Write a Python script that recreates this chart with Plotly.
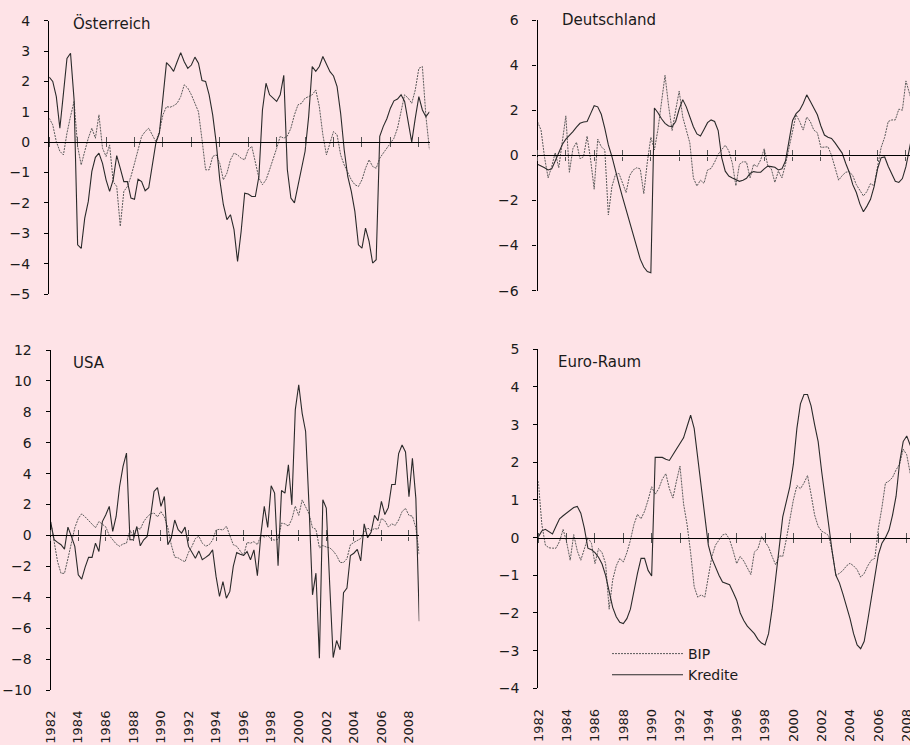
import plotly.graph_objects as go

# ---------------- data (quarterly, 1982Q1 .. 2008Q4) ----------------
quarters = [1982 + i / 4 for i in range(108)]
year_ticks = list(range(1982, 2009, 2))
year_labels = [str(y) for y in year_ticks]

at_kredite = [2.14, 2.0, 1.5, 0.46, 1.6, 2.76, 2.93, 1.4, -3.38, -3.5,
              -2.5, -1.95, -0.96, -0.5, -0.36, -0.7, -1.24, -1.62, -1.24, -0.44,
              -0.86, -1.3, -1.3, -1.84, -1.88, -1.22, -1.3, -1.6, -1.5, -0.7,
              -0.03, 0.3, 1.5, 2.62, 2.5, 2.33, 2.65, 2.95, 2.65, 2.43,
              2.54, 2.8, 2.6, 2.03, 2.0, 1.56, 0.9, -0.03, -1.24, -2.06,
              -2.55, -2.39, -2.88, -3.93, -2.94, -1.68, -1.71, -1.79, -1.79, -1.13,
              1.06, 1.94, 1.56, 1.45, 1.34, 1.56, 2.2, -0.9, -1.84, -2.0,
              -1.4, -0.8, -0.3, 0.84, 2.49, 2.33, 2.49, 2.82, 2.54, 2.32,
              2.18, 1.83, 0.95, -0.25, -1.13, -1.62, -2.28, -3.38, -3.49, -2.83,
              -3.27, -3.98, -3.87, 0.19, 0.52, 0.77, 1.12, 1.36, 1.42, 1.56,
              1.34, 0.62, 0.0, 0.79, 1.5, 1.06, 0.84, 1.0]
at_bip = [0.79, 0.57, 0.02, -0.3, -0.42, 0.3, 0.85, 1.34, -0.14, -0.75,
          -0.3, 0.13, 0.46, 0.13, 0.9, -0.2, -0.47, -0.09, -1.3, -1.46,
          -2.77, -1.62, -1.46, -1.13, -0.7, -0.25, 0.19, 0.35, 0.46, 0.24,
          0.02, 0.35, 0.9, 1.17, 1.15, 1.2, 1.28, 1.5, 1.89, 1.78,
          1.56, 1.28, 1.0, 0.08, -0.91, -0.91, -0.47, -0.42, -0.7, -1.24,
          -1.02, -0.58, -0.36, -0.42, -0.53, -0.58, -0.25, -0.14, -0.7, -1.18,
          -1.4, -1.24, -0.91, -0.58, -0.2, 0.19, 0.13, 0.2, 0.46, 0.9,
          1.23, 1.28, 1.45, 1.5, 1.56, 1.72, 1.17, 0.24, -0.42, -0.03,
          0.35, 0.24, -0.42, -0.75, -1.02, -1.24, -1.4, -1.46, -1.24, -0.86,
          -0.58, -0.8, -0.86, -0.53, -0.36, -0.2, -0.03, 0.13, 0.46, 1.0,
          1.56, 1.45, 1.28, 1.72, 2.43, 2.49, 0.84, -0.25]

de_kredite = [-0.4, -0.46, -0.55, -0.65, -0.6, -0.25, 0.15, 0.48, 0.72, 0.87,
              1.05, 1.25, 1.42, 1.48, 1.5, 1.85, 2.2, 2.15, 1.82, 1.2,
              0.46, -0.05, -0.7, -1.28, -1.85, -2.4, -2.95, -3.55, -4.1, -4.6,
              -4.95, -5.15, -5.2, 2.1, 1.89, 1.62, 1.42, 1.3, 1.27, 1.5,
              2.05, 2.47, 2.15, 1.7, 1.27, 0.95, 0.86, 1.15, 1.45, 1.57,
              1.5, 1.1, -0.1, -0.7, -0.92, -1.0, -1.07, -1.15, -1.1, -1.02,
              -0.8, -0.72, -0.75, -0.75, -0.6, -0.48, -0.5, -0.53, -0.65, -0.6,
              -0.25, 0.7, 1.55, 1.85, 2.0, 2.3, 2.68, 2.4, 2.13, 1.8,
              1.3, 0.9, 0.8, 0.75, 0.55, 0.3, 0.1, -0.35, -0.75, -1.3,
              -1.65, -2.15, -2.5, -2.25, -1.95, -1.4, -0.6, -0.1, -0.07, -0.48,
              -0.85, -1.15, -1.2, -1.03, -0.5, 0.4, 1.1, 1.6]
de_bip = [1.49, 1.12, -0.1, -1.0, -0.5, 0.12, -0.55, 0.5, 1.75, -0.75,
          0.3, 0.58, -0.15, -0.06, 0.85, -0.2, -1.5, 0.72, 0.38, 0.24,
          -2.64, -1.39, -0.85, -0.8, -1.2, -1.65, -0.9, -0.65, -0.55, -0.6,
          -1.7, -0.3, 0.8, 0.24, 1.15, 2.25, 3.55, 2.2, 1.1, 2.0,
          2.85, 1.7, 1.1, 0.55, -1.0, -1.36, -1.1, -1.24, -0.65, -0.58,
          -0.3, 0.05, 0.25, 0.45, 0.2, -0.35, -1.35, -0.4, -0.28, -0.3,
          -1.0, -0.4, -0.5, -0.2, 0.3, -0.45, -0.6, -1.2, -0.7, -1.0,
          -0.4, 0.3, 1.1, 1.8, 1.5, 1.12, 1.7, 1.5, 1.12, 1.0,
          0.35, 0.38, 0.38, 0.0, -0.5, -1.1, -0.9, -0.75, -0.72, -0.9,
          -1.3, -1.55, -1.8, -1.6, -1.25, -1.35, -0.4, 0.35, 0.8, 1.5,
          1.57, 1.57, 2.05, 2.0, 3.3, 2.7, 2.2, 1.8]

us_kredite = [0.85, -0.28, -0.45, -0.6, -0.88, 0.54, -0.06, -0.71, -2.55, -2.83,
              -2.05, -1.42, -1.42, -0.5, -1.04, 0.9, 1.34, 1.88, 0.26, 1.23,
              3.17, 4.47, 5.33, -0.28, -0.28, 0.58, -0.67, -0.28, -0.06, 1.23,
              2.85, 3.1, 1.88, 2.52, -0.6, -0.17, 1.0, 0.37, 0.15, 0.54,
              -0.71, -1.1, -1.47, -1.0, -1.57, -1.42, -1.25, -0.93, -2.65, -3.95,
              -2.98, -4.06, -3.62, -2.0, -1.1, -1.21, -1.29, -1.04, -1.57, -0.93,
              -2.61, 0.04, 1.88, 0.52, 3.21, 2.74, -1.96, 2.91, 2.74, 4.57,
              1.98, 8.13, 9.75, 7.9, 6.73, 1.88, -3.84, -2.44, -7.94, 2.31,
              1.77, -3.2, -7.9, -6.8, -7.4, -3.7, -3.4, -1.3, -1.15, -0.9,
              -1.65, 0.75, -0.15, 0.2, 1.3, 0.95, 2.2, 1.35, 1.8, 3.3,
              3.3, 5.3, 5.85, 5.4, 2.5, 5.0, 2.4, -5.55]
us_bip = [0.9, -0.5, -1.7, -2.45, -2.45, -1.5, -0.5, 0.5, 1.1, 1.4,
          1.2, 0.95, 0.75, 0.5, 0.9, 0.75, 0.55, 0.0, -0.3, -0.55,
          -0.7, -0.55, -0.5, 0.35, -0.1, 0.5, 0.4, 0.9, 1.2, 1.4,
          1.45, 1.2, 1.55, 1.2, 0.5, -0.6, -1.4, -1.45, -1.6, -1.7,
          -1.1, -0.7, -0.2, -0.05, -0.5, -0.7, -0.6, -0.3, 0.35, 0.4,
          0.35, 0.6, 0.0, -0.6, -0.7, -1.0, -1.3, -0.45, -0.5, -0.4,
          -0.6, 0.0, -0.1, 0.0, -0.25, -0.3, -0.25, 0.8, 0.75, 0.6,
          1.05, 1.9, 1.3, 2.3, 1.8, 1.4, 0.5, 0.4, -0.8, -0.65,
          -0.75, -0.8, -1.0, -1.3, -1.75, -1.75, -1.5, -0.6, -0.45, -0.35,
          -0.2, 0.2, 0.5, 0.3, 0.45, 0.4, 1.1, 0.95, 0.55, 0.75,
          0.65, 1.0, 1.55, 1.75, 1.3, 1.25, 0.5, -1.25]

eu_kredite = [0.02, 0.18, 0.22, 0.15, 0.1, 0.3, 0.5, 0.58, 0.65, 0.73,
              0.8, 0.83, 0.65, 0.25, -0.28, -0.32, -0.4, -0.52, -0.7, -1.0,
              -1.4, -1.85, -2.1, -2.25, -2.28, -2.15, -1.9, -1.4, -0.95, -0.55,
              -0.55, -0.87, -1.02, 2.13, 2.14, 2.13, 2.08, 2.05, 2.2, 2.35,
              2.5, 2.65, 2.95, 3.25, 2.9, 2.1, 1.3, 0.55, -0.2, -0.55,
              -0.8, -1.0, -1.18, -1.22, -1.25, -1.45, -1.66, -2.0, -2.2, -2.35,
              -2.45, -2.55, -2.7, -2.8, -2.85, -2.55, -1.9, -1.05, -0.15, 0.55,
              0.95, 1.35, 1.95, 2.9, 3.55, 3.8, 3.8, 3.5, 3.0, 2.55,
              1.75, 1.0, 0.2, -0.4, -1.0, -1.2, -1.5, -1.8, -2.15, -2.55,
              -2.85, -2.95, -2.75, -2.2, -1.65, -1.0, -0.45, -0.15, 0.0, 0.2,
              0.6, 1.1, 2.0, 2.55, 2.7, 2.45, 2.2, 2.0]
eu_bip = [1.5, 0.35, -0.2, -0.27, -0.28, -0.28, -0.1, 0.22, -0.12, -0.6,
          0.08, -0.35, -0.6, -0.28, 0.0, -0.15, -0.69, -0.29, -0.4, -0.69,
          -1.9, -1.12, -0.75, -0.55, -0.65, -0.4, -0.07, 0.35, 0.62, 0.5,
          0.7, 1.0, 1.35, 1.15, 1.3, 1.55, 1.7, 1.3, 1.05, 1.5,
          1.9, 0.9, 0.35, -0.4, -1.3, -1.58, -1.52, -1.58, -1.0, -0.5,
          -0.2, -0.05, 0.07, 0.1, -0.05, -0.35, -0.69, -0.5, -0.62, -0.8,
          -0.98, -0.38, -0.3, 0.03, -0.1, -0.25, -0.5, -0.72, -0.48, -0.5,
          -0.05, 0.5, 1.0, 1.38, 1.3, 1.45, 1.65, 1.15, 0.6, 0.3,
          0.17, 0.12, 0.05, -0.4, -1.0, -0.95, -0.87, -0.75, -0.68, -0.75,
          -0.85, -1.05, -0.95, -0.75, -0.6, -0.55, 0.25, 0.8, 1.45, 1.5,
          1.6, 1.8, 1.95, 2.35, 2.2, 1.7, 1.5, 1.3]

# ---------------- styling / layout ----------------
W, H = 910, 745
BG = "#FEE3E7"
FONT = "DejaVu Sans"
TXT = "#1a1a1a"

panels = [
    dict(title="Österreich", bip=at_bip, kred=at_kredite,
         xpx=(49.2, 429.5), ypx=(20.7, 294.0), yr=(-5, 4), dtick=1,
         xmax=2008.75, labels=False, tpx=(71, 23)),
    dict(title="Deutschland", bip=de_bip, kred=de_kredite,
         xpx=(537.5, 910.0), ypx=(20.0, 290.7), yr=(-6, 6), dtick=2,
         xmax=1982 + (910 - 537.5) / 14.17, labels=False, tpx=(560, 20)),
    dict(title="USA", bip=us_bip, kred=us_kredite,
         xpx=(50.7, 419.3), ypx=(350.0, 690.0), yr=(-10, 12), dtick=2,
         xmax=2008.75, labels=True, tpx=(71, 363)),
    dict(title="Euro-Raum", bip=eu_bip, kred=eu_kredite,
         xpx=(538.3, 910.0), ypx=(349.3, 688.3), yr=(-4, 5), dtick=1,
         xmax=1982 + (910 - 538.3) / 14.17, labels=True, tpx=(556, 362)),
]

fig = go.Figure()
layout = dict(
    width=W, height=H, autosize=False,
    margin=dict(l=0, r=0, t=0, b=0, autoexpand=False),
    paper_bgcolor=BG, plot_bgcolor=BG,
    font=dict(family=FONT, size=14, color=TXT),
    showlegend=True,
    legend=dict(x=607 / W, y=1 - 638 / H, xanchor="left", yanchor="top",
                bgcolor="rgba(0,0,0,0)", font=dict(size=14, color=TXT),
                tracegroupgap=0, itemwidth=71),
    annotations=[],
)

for k, p in enumerate(panels, start=1):
    xd = [p["xpx"][0] / W, min(1.0, p["xpx"][1] / W)]
    yd = [1 - p["ypx"][1] / H, 1 - p["ypx"][0] / H]
    xr = [1982, p["xmax"]]
    y0, y1 = p["yr"]
    zero_pos = yd[0] + (0 - y0) / (y1 - y0) * (yd[1] - yd[0])
    xa, xb = 4 + 2 * k - 1, 4 + 2 * k
    sx = "" if k == 1 else str(k)
    legend_on = (k == 4)

    fig.add_trace(go.Scatter(x=quarters, y=p["bip"], mode="lines", name="BIP",
                             line=dict(color="#5a5a5a", width=1, dash="2px,1px"),
                             xaxis="x" + sx, yaxis="y" + sx,
                             showlegend=legend_on, hoverinfo="skip"))
    fig.add_trace(go.Scatter(x=quarters, y=p["kred"], mode="lines", name="Kredite",
                             line=dict(color="#2a2a2a", width=1.1),
                             xaxis="x" + sx, yaxis="y" + sx,
                             showlegend=legend_on, hoverinfo="skip"))
    for ax in (xa, xb):
        fig.add_trace(go.Scatter(x=[None], y=[None], mode="lines",
                                 xaxis="x%d" % ax, yaxis="y" + sx,
                                 showlegend=False, hoverinfo="skip"))

    layout["xaxis" + sx] = dict(
        domain=xd, range=xr, anchor="y" + sx, automargin=False,
        showline=False, showgrid=False, zeroline=False, ticks="",
        tickmode="array", tickvals=year_ticks, ticktext=year_labels,
        showticklabels=p["labels"], tickangle=-90,
        tickfont=dict(family=FONT, size=13, color=TXT),
        ticklabelstandoff=17, ticklabeloverflow="allow",
    )
    layout["yaxis" + sx] = dict(
        domain=yd, range=[y0, y1], anchor="x" + sx, automargin=False,
        showline=True, linecolor="black", linewidth=1.3,
        ticks="outside", ticklen=4, tickcolor="black", tickwidth=1,
        tickmode="linear", tick0=0, dtick=p["dtick"],
        showgrid=False, zeroline=False,
        tickfont=dict(family=FONT, size=14, color=TXT),
        ticklabelstandoff=11,
    )
    layout["xaxis%d" % xa] = dict(
        overlaying="x" + sx, anchor="free", position=zero_pos, side="bottom",
        range=xr, automargin=False, showline=True, linecolor="black", linewidth=1.3,
        ticks="outside", ticklen=4, tickcolor="#555555", tickwidth=1,
        tickmode="array", tickvals=year_ticks, showticklabels=False,
        showgrid=False, zeroline=False,
    )
    layout["xaxis%d" % xb] = dict(
        overlaying="x" + sx, anchor="free", position=zero_pos, side="top",
        range=xr, automargin=False, showline=False,
        ticks="outside", ticklen=5, tickcolor="#555555", tickwidth=1,
        tickmode="array", tickvals=year_ticks, showticklabels=False,
        showgrid=False, zeroline=False,
    )
    layout["annotations"].append(dict(
        text=p["title"], xref="paper", yref="paper",
        x=p["tpx"][0] / W, y=1 - p["tpx"][1] / H,
        xanchor="left", yanchor="middle", showarrow=False,
        font=dict(family=FONT, size=15, color=TXT),
    ))

fig.update_layout(**layout)
fig.write_html(
    "out.html",
    config={"displayModeBar": False},
    post_script="document.body.style.margin='0';document.body.style.overflow='hidden';",
)
